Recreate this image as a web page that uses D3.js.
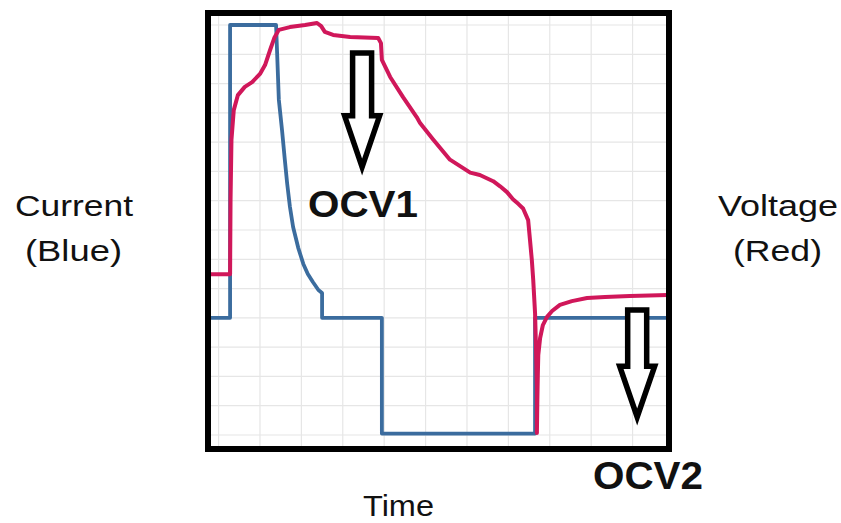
<!DOCTYPE html>
<html>
<head>
<meta charset="utf-8">
<script src="https://cdn.jsdelivr.net/npm/d3@7"></script>
<style>
  html, body { margin: 0; padding: 0; background: #ffffff; }
  svg { display: block; }
</style>
</head>
<body>
<svg id="chart" width="841" height="523"></svg>
<script>
// ---- data (time in arbitrary minutes, current in A, voltage in V) ----
const currentTime = [0, 4.8, 4.8, 14.8, 15.4, 16.1, 16.7, 17.2, 17.8, 18.5, 19.6, 20.7, 21.7, 22.8, 24.0, 24.8, 24.8, 37.8, 37.8, 71.1, 71.1, 100];
const currentValues = [0, 0, 2.0, 2.0, 1.49, 1.28, 1.08, 0.92, 0.76, 0.62, 0.48, 0.37, 0.30, 0.245, 0.19, 0.17, 0, 0, -0.79, -0.79, 0, 0];

const voltageTime = [0, 4.8, 4.9, 5.1, 5.6, 6.5, 8.0, 9.6, 11.3, 12.4, 13.5, 14.4, 15.4, 17.8, 21.1, 23.7, 24.6, 25.4, 27.2, 30.9, 37.0, 37.6, 37.8, 39.6, 42.4, 45.4, 46.1, 48.9, 52.6, 57.0, 59.1, 62.0, 63.5, 65.0, 66.3, 67.5, 68.5, 69.6, 70.0, 70.4, 70.7, 71.1, 71.3, 71.5, 71.5, 71.6, 71.7, 71.8, 72.2, 72.8, 73.7, 74.8, 76.5, 79.1, 82.4, 86.3, 91.7, 100];
const voltageValues = [3.465, 3.465, 3.682, 3.858, 3.945, 3.989, 4.013, 4.027, 4.051, 4.077, 4.121, 4.156, 4.180, 4.188, 4.194, 4.200, 4.191, 4.174, 4.165, 4.159, 4.156, 4.141, 4.092, 4.042, 3.983, 3.924, 3.907, 3.860, 3.800, 3.762, 3.755, 3.737, 3.722, 3.705, 3.684, 3.670, 3.657, 3.623, 3.565, 3.506, 3.448, 3.351, 3.252, 3.135, 3.0, 3.097, 3.170, 3.228, 3.278, 3.316, 3.340, 3.357, 3.375, 3.386, 3.395, 3.398, 3.401, 3.404];

const gridTimes = [2.3, 11.3, 20.3, 29.3, 38.3, 47.3, 56.3, 65.3, 74.3, 83.3, 92.3];
const gridCurrents = [-0.8, -0.6, -0.4, -0.2, 0, 0.2, 0.4, 0.6, 0.8, 1.0, 1.2, 1.4, 1.6, 1.8, 2.0];

// annotation arrows: time position, top and tip (in current units)
const arrowLabels = ["OCV1", "OCV2"];
const arrowTime = [33.5, 93.3];
const arrowTop = [1.809, 0.054];
const arrowShoulder = [1.38, -0.33];
const arrowTip = [1.03, -0.677];

// ---- layout ----
const frame = {left: 208, right: 669, top: 13, bottom: 449};
const svg = d3.select("#chart");

const x = d3.scaleLinear().domain([0, 100]).range([208, 668]);
const yI = d3.scaleLinear().domain([-0.8, 2.0]).range([435, 25]);
const yV = d3.scaleLinear().domain([3.0, 4.2]).range([433, 23]);

svg.append("defs").append("clipPath").attr("id", "plotclip")
  .append("rect")
  .attr("x", frame.left).attr("y", frame.top)
  .attr("width", frame.right - frame.left).attr("height", frame.bottom - frame.top);

const plot = svg.append("g").attr("clip-path", "url(#plotclip)");

// grid
plot.append("g").selectAll("line").data(gridTimes).join("line")
  .attr("x1", d => x(d)).attr("x2", d => x(d))
  .attr("y1", frame.top).attr("y2", frame.bottom)
  .attr("stroke", "#e6e6e6").attr("stroke-width", 1.2);
plot.append("g").selectAll("line").data(gridCurrents).join("line")
  .attr("x1", frame.left).attr("x2", frame.right)
  .attr("y1", d => yI(d)).attr("y2", d => yI(d))
  .attr("stroke", "#e6e6e6").attr("stroke-width", 1.2);

// current (blue)
const currentData = currentTime.map((t, i) => [t, currentValues[i]]);
plot.append("path")
  .datum(currentData)
  .attr("fill", "none")
  .attr("stroke", "#3b6c9e")
  .attr("stroke-width", 3.8)
  .attr("stroke-linejoin", "round")
  .attr("d", d3.line().x(d => x(d[0])).y(d => yI(d[1])));

// voltage (red)
const voltageData = voltageTime.map((t, i) => [t, voltageValues[i]]);
plot.append("path")
  .datum(voltageData)
  .attr("fill", "none")
  .attr("stroke", "#d0175a")
  .attr("stroke-width", 4)
  .attr("stroke-linejoin", "round")
  .attr("d", d3.line().x(d => x(d[0])).y(d => yV(d[1])));

// frame
svg.append("rect")
  .attr("x", frame.left).attr("y", frame.top)
  .attr("width", frame.right - frame.left).attr("height", frame.bottom - frame.top)
  .attr("fill", "none").attr("stroke", "#000").attr("stroke-width", 6);

// arrows
const shaftHalf = 9.5, headHalf = 17.5;
arrowTime.forEach((t, i) => {
  const cx = x(t), top = yI(arrowTop[i]), sh = yI(arrowShoulder[i]), tip = yI(arrowTip[i]);
  const p = d3.path();
  p.moveTo(cx - shaftHalf, top);
  p.lineTo(cx + shaftHalf, top);
  p.lineTo(cx + shaftHalf, sh);
  p.lineTo(cx + headHalf, sh);
  p.lineTo(cx, tip);
  p.lineTo(cx - headHalf, sh);
  p.lineTo(cx - shaftHalf, sh);
  p.closePath();
  svg.append("path").attr("d", p.toString())
    .attr("fill", "#fff").attr("stroke", "#000")
    .attr("stroke-width", 5.5).attr("stroke-linejoin", "miter");
});

// texts
const font = "'Liberation Sans', Arial, sans-serif";
function txt(s, cx, y, size, w, weight) {
  svg.append("text").text(s)
    .attr("x", cx - w / 2).attr("y", y)
    .attr("font-family", font).attr("font-size", size)
    .attr("font-weight", weight || "normal")
    .attr("fill", "#111")
    .attr("textLength", w).attr("lengthAdjust", "spacingAndGlyphs");
}
txt("Current", 74, 216, 30, 118);
txt("(Blue)", 73.5, 261, 30, 97);
txt("Voltage", 778, 216, 30, 120);
txt("(Red)", 777.5, 261, 30, 89);
txt("Time", 398.5, 516, 30, 71);
txt(arrowLabels[0], x(33.7), 217, 37, 110, "bold");
txt(arrowLabels[1], 648, 489, 39, 110, "bold");
</script>
</body>
</html>
